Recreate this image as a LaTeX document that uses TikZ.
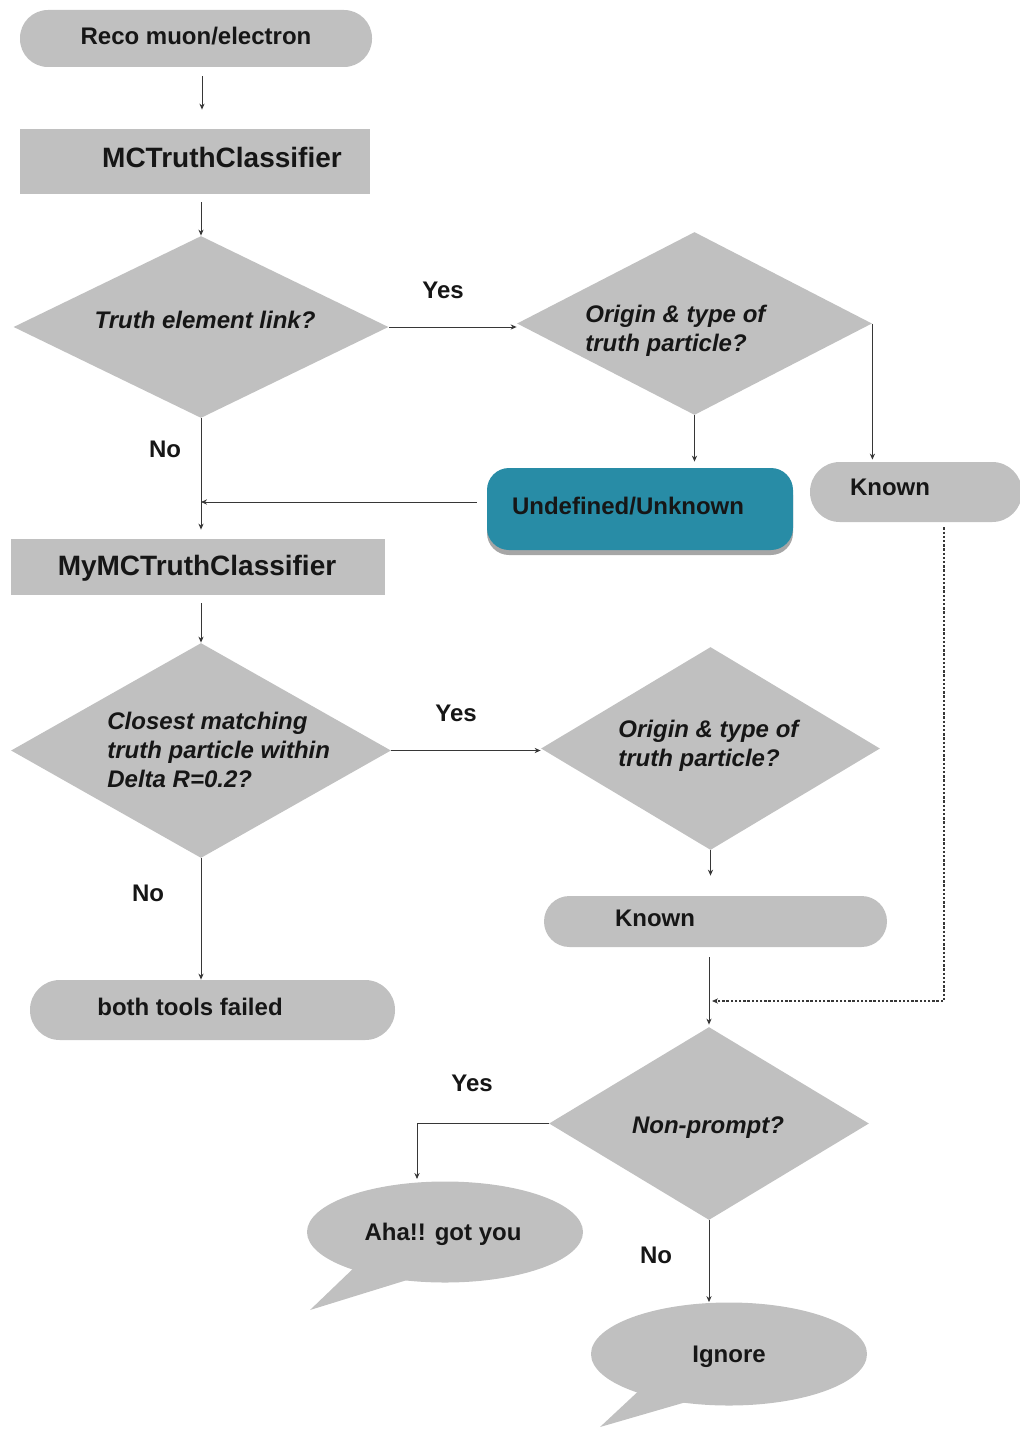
\documentclass[tikz,border=0pt]{standalone}
\usepackage{fontspec}
\setmainfont{Liberation Sans}
\usetikzlibrary{shapes.geometric,arrows.meta,shadows}
\definecolor{boxgray}{RGB}{192,192,192}
\definecolor{linegray}{RGB}{55,55,55}
\definecolor{tealbox}{RGB}{40,140,166}
\definecolor{ink}{RGB}{22,22,22}
\begin{document}
\begin{tikzpicture}[x=0.5pt,y=-0.5pt,
  box/.style={rectangle, fill=boxgray, draw=none, inner sep=0pt},
  pill/.style={box, rounded corners=#1},
  decision/.style={diamond, fill=boxgray, draw=none, inner sep=0pt, aspect=1},
  bubble/.style={ellipse, fill=boxgray, draw=none, inner sep=0pt},
  lbl/.style={font=\bfseries\fontsize{12}{14.5}\selectfont, text=ink, inner sep=0pt},
  qlbl/.style={font=\bfseries\itshape\fontsize{12}{14.5}\selectfont, text=ink, inner sep=0pt, align=left},
  biglbl/.style={font=\bfseries\fontsize{14}{16}\selectfont, text=ink, inner sep=0pt},
  flow/.style={draw=linegray, line width=0.5pt, -{Stealth[length=3pt,width=2.6pt]}},
  dashflow/.style={flow, line width=0.8pt, dash pattern=on 1.2pt off 0.9pt}
]
\useasboundingbox (0,0) rectangle (1019,1429);

% ---- shapes ----
\node[pill=14pt, minimum width=176pt, minimum height=28.5pt] (reco) at (196,38.5) {};
\node[box, minimum width=175pt, minimum height=32.5pt] (mct) at (195,161.5) {};
\node[decision, minimum width=187.5pt, minimum height=91pt] (d1) at (201,327) {};
\node[decision, minimum width=177.5pt, minimum height=91.5pt] (d2) at (694.5,323.5) {};
\node[pill=11pt, fill=tealbox, minimum width=153pt, minimum height=41pt,
      drop shadow={shadow xshift=0pt, shadow yshift=-2.5pt, fill=black, opacity=0.35}] (undef) at (640,509) {};
\node[pill=14.9pt, minimum width=106pt, minimum height=30pt] (known1) at (916,492) {};
\node[box, minimum width=187pt, minimum height=28pt] (mymct) at (198,567) {};
\node[decision, minimum width=190pt, minimum height=107.5pt] (d3) at (201,750.5) {};
\node[decision, minimum width=169.5pt, minimum height=101.5pt] (d4) at (710.5,748.5) {};
\node[pill=12.7pt, minimum width=171.5pt, minimum height=25.5pt] (known2) at (715.5,921.5) {};
\node[pill=14.9pt, minimum width=182.5pt, minimum height=30pt] (failed) at (212.5,1010) {};
\node[decision, minimum width=160pt, minimum height=96.5pt] (d5) at (709,1123.5) {};

% speech bubbles with their tails
\fill[boxgray] (360,1262) -- (310,1310) -- (420,1276) -- cycle;
\node[bubble, minimum width=138pt, minimum height=50.5pt] (aha) at (445,1232) {};
\fill[boxgray] (645,1385) -- (600,1427) -- (700,1398) -- cycle;
\node[bubble, minimum width=138pt, minimum height=51.5pt] (ignore) at (729,1354) {};

% ---- texts ----
\node[lbl] (recot) at (196,36) {Reco muon/electron};
\node[biglbl] (mctt) at (222,157) {MCTruthClassifier};
\node[qlbl] (d1t) at (205,320) {Truth element link?};
\node[qlbl, anchor=west] (d2t) at (585,331) {Origin \& type of\\truth particle?};
\node[lbl] (undeft) at (628,506) {Undefined/Unknown};
\node[lbl] (known1t) at (890,487) {Known};
\node[biglbl] (mymctt) at (197,568) {MyMCTruthClassifier};
\node[qlbl, anchor=west] (d3t) at (107,750) {Closest matching\\truth particle within\\Delta R=0.2?};
\node[qlbl, anchor=west] (d4t) at (618,745.5) {Origin \& type of\\truth particle?};
\node[lbl] (known2t) at (655,918) {Known};
\node[lbl] (failedt) at (190,1007) {both tools failed};
\node[qlbl] (d5t) at (708,1127.5) {Non-prompt?};
\node[lbl] (ahat) at (443,1234) {Aha!! got you};
\node[lbl] (ignoret) at (729,1356.5) {Ignore};

% branch labels
\node[lbl] (yes1) at (443,290) {Yes};
\node[lbl] (no1) at (165,449) {No};
\node[lbl] (yes2) at (456,713) {Yes};
\node[lbl] (no2) at (148,893) {No};
\node[lbl] (yes3) at (472,1083) {Yes};
\node[lbl] (no3) at (656,1255) {No};

% ---- connectors ----
\coordinate (xa) at (202,0);
\draw[flow, shorten <=4.5pt, shorten >=9.5pt] (reco.south -| xa) -- (mct.north -| xa);
\draw[flow, shorten <=4pt] (mct.south -| d1.north) -- (d1.north);
\draw[flow] (d1.east) -- (d1.east -| d2.west);
\draw[flow, shorten >=3pt] (d2.south) -- (d2.south |- undef.north);
\draw[flow, shorten >=1pt] (d2.east) -- (d2.east |- known1.north);
\draw[flow, shorten <=5pt] ([yshift=3.5pt]undef.west) -- ([yshift=3.5pt]undef.west -| d1.south);
\draw[flow, shorten >=4.5pt] (d1.south) -- (d1.south |- mymct.north);
\draw[flow, shorten <=4pt] (mymct.south -| d3.north) -- (d3.north);
\draw[flow] (d3.east) -- (d3.east -| d4.west);
\draw[flow, shorten >=10pt] (d4.south) -- (d4.south |- known2.north);
\draw[flow] (d3.south) -- (d3.south |- failed.north);
\draw[flow, shorten <=5pt, shorten >=1pt] (known2.south -| d5.north) -- (d5.north);
\coordinate (dashbend) at (944,1001);
\draw[dashflow, shorten <=2.5pt, shorten >=1.5pt] (known1.south -| dashbend) -- (dashbend) -- (dashbend -| d5.north);
\coordinate (ahain) at (417,1179);
\draw[flow] (d5.west) -| (ahain);
\draw[flow] (d5.south) -- (d5.south |- ignore.north);
\end{tikzpicture}
\end{document}
